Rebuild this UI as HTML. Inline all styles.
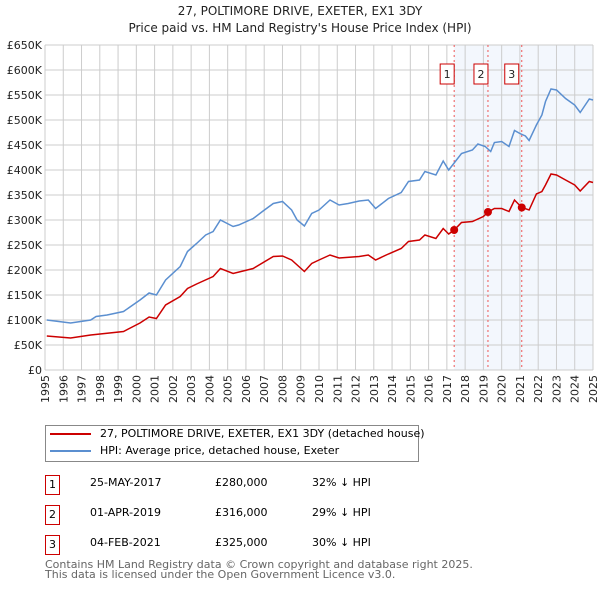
<!DOCTYPE html>
<html><head><meta charset="utf-8"><style>
body{margin:0;width:600px;height:590px;background:#fff;font-family:"DejaVu Sans","Liberation Sans",sans-serif;overflow:hidden;position:relative}
.t{position:absolute;white-space:nowrap}
.box{position:absolute;border:1px solid #c00;width:13px;height:18px;font-size:11px;text-align:center;line-height:18px}
</style></head><body>
<div class="t" style="left:0;width:600px;text-align:center;top:3px;font-size:12px;line-height:17px;color:#222">27, POLTIMORE DRIVE, EXETER, EX1 3DY<br>Price paid vs. HM Land Registry's House Price Index (HPI)</div>
<svg id="chart" width="600" height="410" style="position:absolute;left:0;top:0;font-family:'DejaVu Sans',sans-serif;font-size:11px"></svg>
<div style="position:absolute;left:45px;top:425px;width:372px;height:35px;border:1px solid #888"></div>
<div style="position:absolute;left:50px;top:433px;width:41px;height:2px;background:#c00"></div>
<div class="t" style="left:100px;top:427px;font-size:11px">27, POLTIMORE DRIVE, EXETER, EX1 3DY (detached house)</div>
<div style="position:absolute;left:50px;top:450px;width:41px;height:2px;background:#5b8fd0"></div>
<div class="t" style="left:100px;top:444px;font-size:11px">HPI: Average price, detached house, Exeter</div>
<div class="box" style="left:45px;top:475px">1</div>
<div class="t" style="left:90px;top:476px;font-size:11px">25-MAY-2017</div>
<div class="t" style="left:215px;top:476px;font-size:11px">£280,000</div>
<div class="t" style="left:312px;top:476px;font-size:11px">32% ↓ HPI</div>
<div class="box" style="left:45px;top:505px">2</div>
<div class="t" style="left:90px;top:506px;font-size:11px">01-APR-2019</div>
<div class="t" style="left:215px;top:506px;font-size:11px">£316,000</div>
<div class="t" style="left:312px;top:506px;font-size:11px">29% ↓ HPI</div>
<div class="box" style="left:45px;top:535px">3</div>
<div class="t" style="left:90px;top:536px;font-size:11px">04-FEB-2021</div>
<div class="t" style="left:215px;top:536px;font-size:11px">£325,000</div>
<div class="t" style="left:312px;top:536px;font-size:11px">30% ↓ HPI</div>
<div class="t" style="left:45px;top:560px;font-size:11px;line-height:10px;color:#666">Contains HM Land Registry data © Crown copyright and database right 2025.<br>This data is licensed under the Open Government Licence v3.0.</div>
<script>
const hpiX=[1995.1,1996.4,1997.5,1997.8,1998.4,1999.3,2000.2,2000.7,2001.1,2001.6,2002.4,2002.8,2003.3,2003.8,2004.2,2004.6,2005.3,2005.6,2006.4,2006.9,2007.5,2008.0,2008.5,2008.8,2009.2,2009.6,2010.0,2010.6,2011.1,2011.6,2012.2,2012.7,2013.1,2013.8,2014.5,2014.9,2015.5,2015.8,2016.4,2016.8,2017.1,2017.8,2018.4,2018.7,2019.1,2019.4,2019.6,2020.0,2020.4,2020.7,2021.0,2021.3,2021.5,2021.9,2022.2,2022.4,2022.7,2023.0,2023.5,2024.0,2024.3,2024.8,2025.0];
const hpiV=[100,94,100,107,110,117,140,154,150,180,207,237,253,270,277,300,287,290,303,317,333,337,320,300,288,313,320,340,330,333,338,340,323,343,355,377,380,397,390,418,400,433,440,452,447,437,455,457,447,479,473,468,459,490,510,537,562,560,543,530,515,542,540];
const redX=[1995.1,1996.4,1997.5,1999.3,2000.2,2000.7,2001.1,2001.6,2002.4,2002.8,2003.3,2004.2,2004.6,2005.3,2006.4,2007.5,2008.0,2008.5,2009.2,2009.6,2010.0,2010.6,2011.1,2012.2,2012.7,2013.1,2013.8,2014.5,2014.9,2015.5,2015.8,2016.4,2016.8,2017.1,2017.4,2017.8,2018.4,2019.0,2019.25,2019.6,2020.0,2020.4,2020.7,2021.1,2021.5,2021.9,2022.2,2022.4,2022.7,2023.0,2023.5,2024.0,2024.3,2024.8,2025.0];
const redV=[68,64,70,77,94,106,103,130,147,163,172,187,203,193,203,227,228,220,197,213,220,230,224,227,230,220,232,243,257,260,270,263,283,272,280,295,297,307,316,323,323,317,340,325,320,352,357,370,392,390,380,370,358,377,375];
const saleX=[2017.4,2019.25,2021.1];
const saleV=[280,316,325];
const saleLabels=["1","2","3"];
const yTicks=[0,50,100,150,200,250,300,350,400,450,500,550,600,650];
const years=[];for(let y=1995;y<=2025;y++)years.push(y);
const L=45,R=593,T=45,B=370;
const sx=y=>L+(y-1995)*(R-L)/30, sy=v=>B-v*(B-T)/650;
const svg=document.getElementById('chart');const NS='http://www.w3.org/2000/svg';
function mk(t,a,p){const e=document.createElementNS(NS,t);for(const k in a)e.setAttribute(k,a[k]);(p||svg).appendChild(e);return e;}
const shade=mk('rect',{x:sx(saleX[0]),y:T,width:R-sx(saleX[0]),height:B-T,fill:'#eef3fc',opacity:0.7});


years.forEach(y=>{const g=mk('line',{x1:sx(y),x2:sx(y),y1:T,y2:B,stroke:'#ccc','stroke-width':1});


const grp=mk('g',{transform:'translate('+(sx(y)+4)+','+(B+5)+') rotate(-90)'});
const t=mk('text',{x:0,y:0,'text-anchor':'end',fill:'#222'},grp);t.textContent=y;

});
yTicks.forEach(v=>{const g=mk('line',{x1:L,x2:R,y1:sy(v),y2:sy(v),stroke:'#ccc','stroke-width':1});


const t=mk('text',{x:L-3,y:sy(v)+4,'text-anchor':'end',fill:'#222'});t.textContent=v===0?'£0':'£'+v+'K';

});
saleX.forEach((x,i)=>{const l=mk('line',{x1:sx(x),x2:sx(x),y1:T,y2:B,stroke:'#e55','stroke-width':1,'stroke-dasharray':'2,3'});


const r=mk('rect',{x:sx(x)-14+ (i===2?-3:0),y:64,width:14,height:20,fill:'#fff',stroke:'#c00'});


const t=mk('text',{x:sx(x)-7+(i===2?-3:0),y:78,'text-anchor':'middle',fill:'#222'});t.textContent=saleLabels[i];

});
const pts=(X,V)=>X.map((x,i)=>sx(x).toFixed(1)+','+sy(V[i]).toFixed(1)).join(' ');
const h=mk('polyline',{points:pts(hpiX,hpiV),fill:'none',stroke:'#5b8fd0','stroke-width':1.5});


const p=mk('polyline',{points:pts(redX,redV),fill:'none',stroke:'#c00','stroke-width':1.5});


saleX.forEach((x,i)=>{const c=mk('circle',{cx:sx(x),cy:sy(saleV[i]),r:4,fill:'#c00'});

});
</script>
</body></html>
